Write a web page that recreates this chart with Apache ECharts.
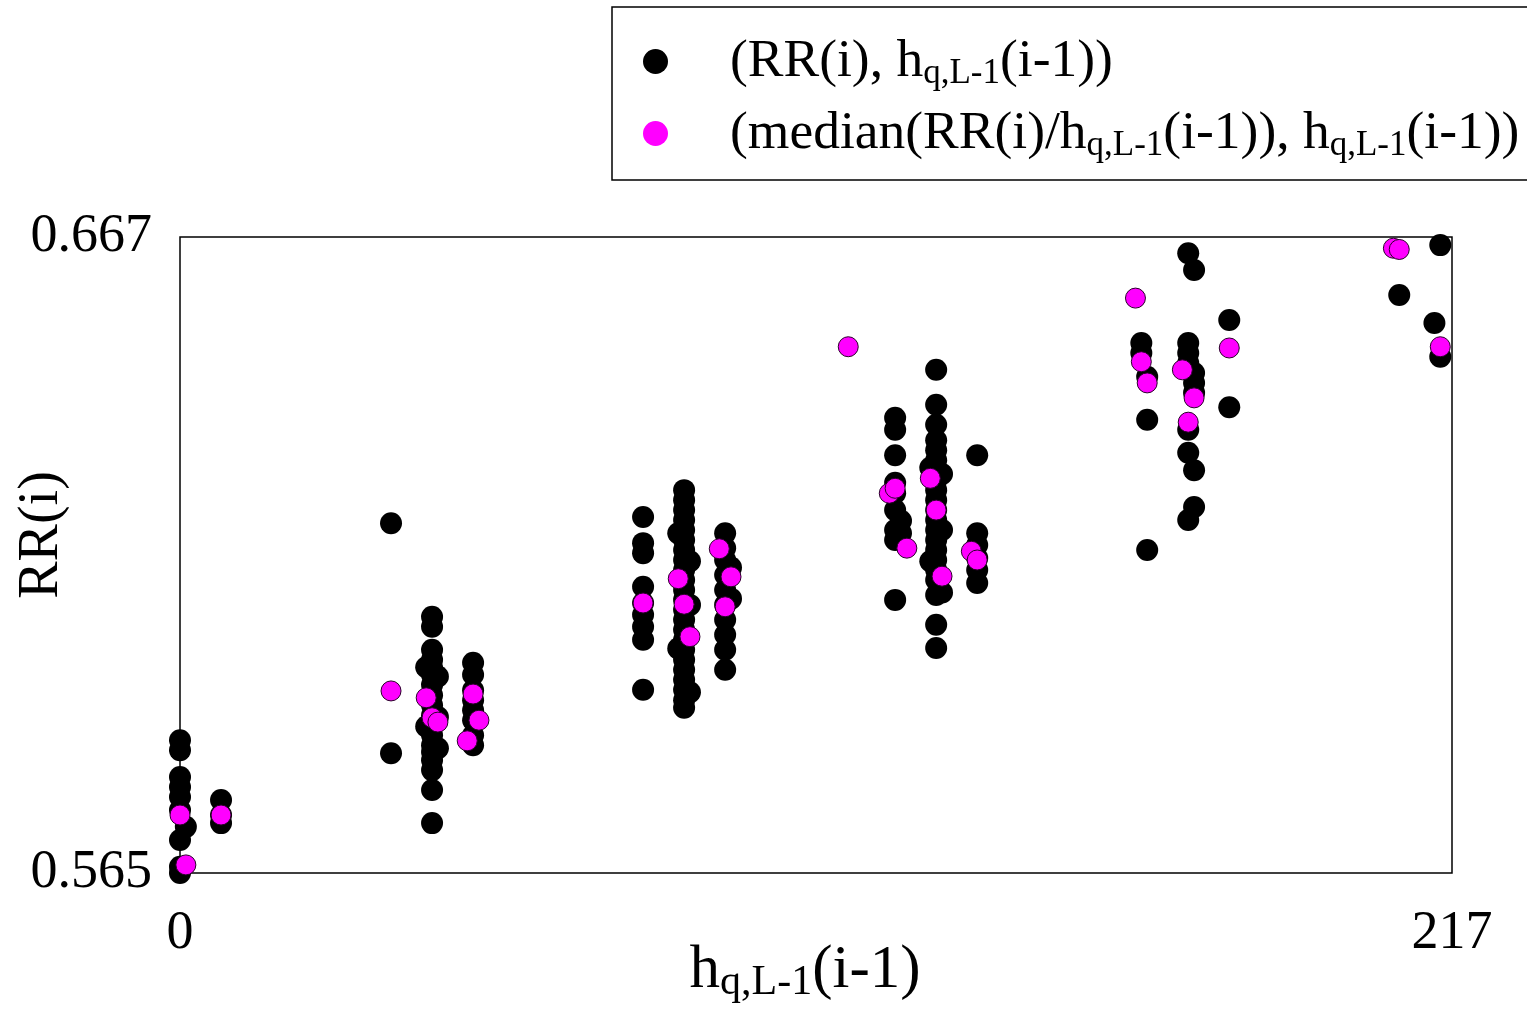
<!DOCTYPE html>
<html>
<head>
<meta charset="utf-8">
<script src="https://cdn.jsdelivr.net/npm/echarts@6/dist/echarts.min.js"></script>
<style>html,body{margin:0;padding:0;background:#fff;}#c{width:1527px;height:1009px;}</style>
</head>
<body>
<div id="c"></div>
<script>
const xTicks = [0, 217];
const yTicks = [0.565, 0.667];

// black points: (RR(i), h_{q,L-1}(i-1))
const rrPoints = [
  [0,0.5863],[0,0.5847],[0,0.5804],[0,0.5788],[0,0.5772],[0,0.5751],[1,0.5724],[0,0.5703],[0,0.5660],[0,0.5650],
  [7,0.5767],[7,0.5743],[7,0.5730],
  [36,0.6211],[36,0.5842],
  [43,0.6061],[43,0.6045],[43,0.6008],[43,0.5992],[43,0.5979],[43,0.5968],[43,0.5952],[43,0.5935],[43,0.5919],
  [43,0.5903],[43,0.5887],[43,0.5871],[43,0.5855],[43,0.5844],[43,0.5831],[43,0.5815],[43,0.5783],[43,0.5730],
  [42,0.5980],[42,0.5885],[44,0.5965],[44,0.5900],[44,0.5850],
  [50,0.5987],[50,0.5968],[50,0.5943],[50,0.5927],[50,0.5911],[50,0.5895],[50,0.5871],[50,0.5855],
  [79,0.6221],[79,0.6179],[79,0.6163],[79,0.6109],[79,0.6083],[79,0.6064],[79,0.6045],[79,0.6024],[79,0.5944],
  [86,0.6264],[86,0.6248],[86,0.6232],[86,0.6216],[86,0.6200],[86,0.6184],[86,0.6168],[86,0.6152],[86,0.6136],
  [86,0.6120],[86,0.6104],[86,0.6088],[86,0.6072],[86,0.6056],[86,0.6040],[86,0.6024],[86,0.6008],[86,0.5992],
  [86,0.5976],[86,0.5960],[86,0.5944],[86,0.5927],[86,0.5915],
  [85,0.6195],[85,0.6010],[87,0.6150],[87,0.6080],[87,0.5940],
  [93,0.6195],[93,0.6171],[93,0.6152],[93,0.6128],[93,0.6104],[93,0.6080],[93,0.6056],[93,0.6032],[93,0.6008],[93,0.5976],
  [94,0.6140],[94,0.6090],
  [122,0.6380],[122,0.6361],[122,0.6320],[122,0.6276],[122,0.6259],[122,0.6232],[122,0.6200],[122,0.6184],[122,0.6088],
  [123,0.6215],[123,0.6195],
  [129,0.6457],[129,0.6401],[129,0.6369],[129,0.6344],[129,0.6328],[129,0.6312],[129,0.6296],[129,0.6280],[129,0.6264],
  [129,0.6248],[129,0.6232],[129,0.6216],[129,0.6200],[129,0.6184],[129,0.6168],[129,0.6152],[129,0.6136],[129,0.6120],
  [129,0.6096],[129,0.6048],[129,0.6011],
  [128,0.6300],[128,0.6150],[130,0.6290],[130,0.6200],[130,0.6100],
  [136,0.6320],[136,0.6195],[136,0.6176],[136,0.6155],[136,0.6136],[136,0.6115],
  [164,0.6500],[164,0.6484],[165,0.6446],[165,0.6377],[165,0.6168],
  [172,0.6644],[172,0.6500],[172,0.6484],[172,0.6468],[172,0.6361],[172,0.6324],[172,0.6216],
  [173,0.6617],[173,0.6452],[173,0.6436],[173,0.6420],[173,0.6296],[173,0.6237],
  [179,0.6537],[179,0.6397],
  [208,0.6577],[214,0.6532],[215,0.6657],[215,0.6478]
];

// magenta points: (median(RR(i)/h), h)
const medianPoints = [
  [0,0.5743],[1,0.5663],[7,0.5743],[36,0.5942],[42,0.5931],[43,0.5899],[44,0.5892],[50,0.5937],[51,0.5895],[49,0.5862],
  [79,0.6083],[85,0.6122],[86,0.6081],[87,0.6029],[92,0.6170],[94,0.6125],[93,0.6077],
  [114,0.6494],[121,0.6259],[122,0.6267],[124,0.6171],[128,0.6283],[129,0.6232],[130,0.6126],[135,0.6166],[136,0.6152],
  [163,0.6572],[164,0.6470],[165,0.6436],[171,0.6457],[173,0.6412],[172,0.6373],[179,0.6492],
  [207,0.6652],[208,0.6650],[215,0.6494]
];

const FONT = '"Liberation Serif", "Times New Roman", serif';
const chart = echarts.init(document.getElementById('c'));
const legendRich = {
  m0: { fontFamily: FONT, fontSize: 53.5, lineHeight: 60, color: '#000', padding: [0, 0, 0, 57] },
  m: { fontFamily: FONT, fontSize: 53.5, lineHeight: 60, color: '#000' },
  s: { fontFamily: FONT, fontSize: 35, lineHeight: 36, color: '#000', padding: [24, 0, 0, 0] }
};
chart.setOption({
  animation: false,
  backgroundColor: '#fff',
  grid: { left: 180, right: 75, top: 237, bottom: 136, show: true, borderColor: '#000', borderWidth: 1.5,
    containLabel: false, outerBoundsMode: 'none' },
  legend: {
    left: 612, top: 7, orient: 'vertical',
    padding: [25, 40, 17, 31],
    itemGap: 13, itemWidth: 25, itemHeight: 25,
    borderColor: '#000', borderWidth: 1.5,
    data: [
      { name: 'rr', icon: 'circle', itemStyle: { borderWidth: 0 } },
      { name: 'median', icon: 'circle', itemStyle: { borderWidth: 0 } }
    ],
    formatter: function (n) {
      if (n === 'rr') return '{m0|(RR(i), h}{s|q,L-1}{m|(i-1))}';
      return '{m0|(median(RR(i)/h}{s|q,L-1}{m|(i-1)), h}{s|q,L-1}{m|(i-1))}';
    },
    textStyle: { rich: legendRich }
  },
  xAxis: {
    type: 'value', min: xTicks[0], max: xTicks[1], interval: xTicks[1] - xTicks[0],
    axisLine: { show: false }, axisTick: { show: false }, splitLine: { show: false },
    axisLabel: { fontFamily: FONT, fontSize: 54, color: '#000', margin: 34, showMinLabel: true, showMaxLabel: true },
    name: '{m|h}{s|q,L-1}{m|(i-1)}', nameLocation: 'middle', nameGap: 64, nameMoveOverlap: false,
    nameTextStyle: { padding: [0, 22, 0, 0], rich: {
      m: { fontFamily: FONT, fontSize: 61, lineHeight: 68, color: '#000' },
      s: { fontFamily: FONT, fontSize: 42, lineHeight: 44, color: '#000', padding: [24, 0, 0, 0] }
    } }
  },
  yAxis: {
    type: 'value', min: yTicks[0], max: yTicks[1], interval: +(yTicks[1] - yTicks[0]).toFixed(3),
    axisLine: { show: false }, axisTick: { show: false }, splitLine: { show: false },
    axisLabel: { fontFamily: FONT, fontSize: 54, color: '#000', margin: 28, showMinLabel: true, showMaxLabel: true,
      formatter: v => v.toFixed(3) },
    name: 'RR(i)', nameLocation: 'middle', nameGap: 110, nameRotate: 90, nameMoveOverlap: false,
    nameTextStyle: { fontFamily: FONT, fontSize: 56, color: '#000', padding: [0, 0, 0, 40] }
  },
  series: [
    { name: 'rr', type: 'scatter', data: rrPoints, symbolSize: 22, clip: false, z: 2,
      itemStyle: { color: '#000', opacity: 1 } },
    { name: 'median', type: 'scatter', data: medianPoints, symbolSize: 20, clip: false, z: 3,
      itemStyle: { color: '#ff00ff', borderColor: '#2a002a', borderWidth: 1, opacity: 1 } }
  ]
});
</script>
</body>
</html>
